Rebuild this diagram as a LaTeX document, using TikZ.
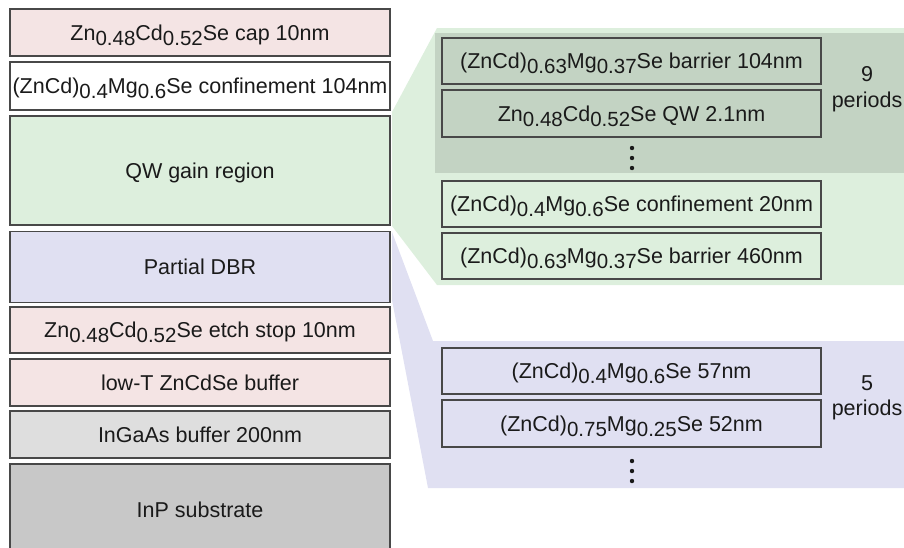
\documentclass[tikz,border=0pt]{standalone}
\usepackage{fontspec}
\setmainfont{Liberation Sans}
\definecolor{pinkf}{HTML}{F4E4E4}
\definecolor{greenf}{HTML}{DDEFDD}
\definecolor{greend}{HTML}{C3D3C3}
\definecolor{purplef}{HTML}{E0E0F2}
\definecolor{grayl}{HTML}{DEDEDE}
\definecolor{grayd}{HTML}{C8C8C8}
\definecolor{edgec}{HTML}{484848}
\definecolor{txt}{HTML}{1A1A1A}
\newcommand\sbs[1]{\raisebox{-5pt}{\fontsize{20.5}{24}\selectfont #1}}
\begin{document}
\begin{tikzpicture}[x=1pt,y=-1pt,
  layer/.style={draw=edgec, line width=1.4pt, minimum width=380pt, inner sep=0pt,
    text height=15pt, text depth=0pt, text=txt, font=\fontsize{21.5}{25}\selectfont},
  sub/.style={layer, minimum width=379pt},
  lbl/.style={inner sep=0pt, anchor=base, text=txt, font=\fontsize{21.5}{25}\selectfont},
  dot/.style={circle, fill=txt, inner sep=0pt, minimum size=4.4pt}]
\useasboundingbox (0,0) rectangle (904,547);
\clip (0,0) rectangle (904,547);
% fans
\fill[greenf] (392,112) -- (437,28) -- (904,28) -- (904,285) -- (437,285) -- (392,226) -- cycle;
\fill[greend] (435,33) rectangle (904,173);
\fill[purplef] (392,232) -- (433,341) -- (904,341) -- (904,488) -- (428,488) -- (392,300) -- cycle;
% left stack
\node[layer, fill=pinkf, minimum height=47pt] (cap) at (200,32.5) {Zn\sbs{0.48}Cd\sbs{0.52}Se cap 10nm};
\node[layer, fill=white, minimum height=48pt] (conf) at (200,86) {(ZnCd)\sbs{0.4}Mg\sbs{0.6}Se confinement 104nm};
\node[layer, fill=greenf, minimum height=109pt] (qw) at (200,170.5) {QW gain region};
\node[layer, fill=purplef, minimum height=71pt] (dbr) at (200,267) {Partial DBR};
\node[layer, fill=pinkf, minimum height=46pt] (etch) at (200,330) {Zn\sbs{0.48}Cd\sbs{0.52}Se etch stop 10nm};
\node[layer, fill=pinkf, minimum height=47pt] (lowt) at (200,382.5) {low-T ZnCdSe buffer};
\node[layer, fill=grayl, minimum height=47pt] (ingaas) at (200,434.5) {InGaAs buffer 200nm};
\node[layer, fill=grayd, minimum height=92pt] (inp) at (200,510) {InP substrate};
% green detail
\node[sub, fill=greend, minimum height=46pt] (b104) at (631.5,61) {(ZnCd)\sbs{0.63}Mg\sbs{0.37}Se barrier 104nm};
\node[sub, fill=greend, minimum height=47pt] (qwl) at (631.5,113.5) {Zn\sbs{0.48}Cd\sbs{0.52}Se QW 2.1nm};
\node[dot] (g1) at (632,148) {};
\node[dot] (g2) at (632,158) {};
\node[dot] (g3) at (632,168) {};
\node[sub, fill=greenf, minimum height=46pt] (c20) at (631.5,204) {(ZnCd)\sbs{0.4}Mg\sbs{0.6}Se confinement 20nm};
\node[sub, fill=greenf, minimum height=46pt] (b460) at (631.5,256) {(ZnCd)\sbs{0.63}Mg\sbs{0.37}Se barrier 460nm};
\node[lbl] (nine) at (867,81) {9};
\node[lbl] (per1) at (867,107) {periods};
% purple detail
\node[sub, fill=purplef, minimum height=46pt] (d57) at (631.5,371) {(ZnCd)\sbs{0.4}Mg\sbs{0.6}Se 57nm};
\node[sub, fill=purplef, minimum height=47pt] (d52) at (631.5,423.5) {(ZnCd)\sbs{0.75}Mg\sbs{0.25}Se 52nm};
\node[dot] (p1) at (632,461) {};
\node[dot] (p2) at (632,471) {};
\node[dot] (p3) at (632,481) {};
\node[lbl] (five) at (867,390) {5};
\node[lbl] (per2) at (867,415) {periods};
\end{tikzpicture}
\end{document}
